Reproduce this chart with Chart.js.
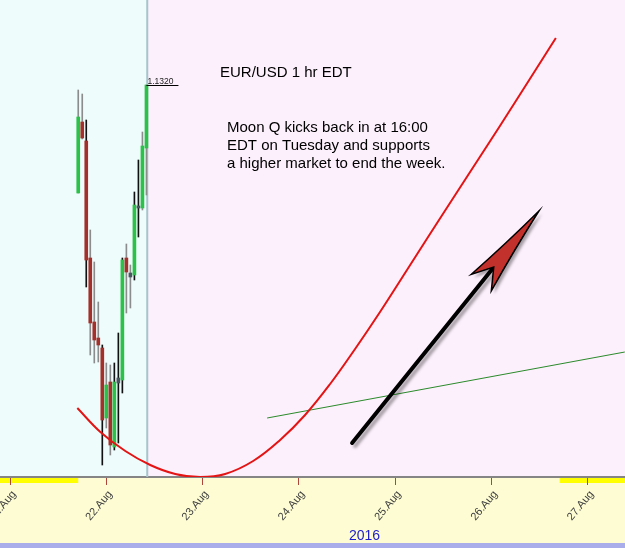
<!DOCTYPE html>
<html>
<head>
<meta charset="utf-8">
<script src="https://cdn.jsdelivr.net/npm/chart.js@4.4.1/dist/chart.umd.min.js"></script>
<style>
  html, body { margin: 0; padding: 0; background: #fcf0fc; }
  #wrap { width: 625px; height: 548px; position: relative; }
</style>
</head>
<body>
<div id="wrap"><canvas id="chart"></canvas></div>
<script>
// x values are days of August 2016, y values are EUR/USD prices
const tickDays = [21, 22, 23, 24, 25, 26, 27];
const tickLabels = ["21.Aug", "22.Aug", "23.Aug", "24.Aug", "25.Aug", "26.Aug", "27.Aug"];

// hourly candles, hours relative to 22 Aug 00:00 EDT
const candleHours = [-7, -6, -5, -4, -3, -2, -1, 0, 1, 2, 3, 4, 5, 6, 7, 8, 9, 10];
const candleOpen  = [1.12984, 1.13126, 1.13088, 1.12854, 1.12726, 1.12694, 1.12674, 1.12534, 1.12606, 1.12476, 1.12604, 1.12610, 1.12854, 1.12816, 1.12820, 1.12954, 1.12954, 1.13074];
const candleHigh  = [1.13190, 1.13182, 1.13130, 1.12910, 1.12846, 1.12766, 1.12680, 1.12644, 1.12640, 1.12644, 1.12704, 1.12854, 1.12882, 1.12840, 1.12986, 1.13050, 1.13106, 1.13200];
const candleLow   = [1.12984, 1.13092, 1.12796, 1.12660, 1.12644, 1.12646, 1.12440, 1.12514, 1.12460, 1.12470, 1.12484, 1.12584, 1.12744, 1.12754, 1.12810, 1.12896, 1.12950, 1.12980];
const candleClose = [1.13136, 1.13094, 1.12850, 1.12724, 1.12690, 1.12680, 1.12530, 1.12600, 1.12480, 1.12606, 1.12614, 1.12850, 1.12826, 1.12824, 1.12960, 1.12958, 1.13078, 1.13200];
const wickDark    = [0, 0, 1, 0, 0, 0, 1, 0, 0, 1, 1, 1, 0, 0, 1, 1, 0, 0];

// Moon Q curve
const moonDays   = [21.699, 21.938, 22.197, 22.456, 22.716, 22.975, 23.234, 23.525, 23.805, 24.064, 24.324, 24.583, 24.842, 25.122, 25.361, 25.589, 25.838, 26.087, 26.378, 26.668];
const moonPrices = [1.12554, 1.12506, 1.12468, 1.12440, 1.12422, 1.12416, 1.12422, 1.12448, 1.12490, 1.12540, 1.12602, 1.12672, 1.12746, 1.12830, 1.12902, 1.12970, 1.13044, 1.13118, 1.13206, 1.13294];

// green trend line
const trendDays   = [23.670, 27.384];
const trendPrices = [1.12534, 1.12666];

// arrow from / to
const arrowDays   = [24.552, 26.492];
const arrowPrices = [1.12484, 1.12948];

const nowDay = 22.425;
const lastPrice = 1.1320;
const weekends = [[20.0, 21.708], [26.708, 28.0]];

const candleX = candleHours.map(h => 22 + h / 24);
const bodyColors = candleOpen.map((o, i) => {
  const c = candleClose[i];
  if (Math.abs(c - o) < 0.0001) return "#4a5560";
  return c > o ? "#2cc24a" : "#a3302a";
});
const wickColors = wickDark.map(d => d ? "#111111" : "#8c8c8c");

const extras = {
  id: "extras",
  beforeDraw(chart) {
    const { ctx, chartArea: a, scales: { x } } = chart;
    const nx = x.getPixelForValue(nowDay);
    ctx.save();
    ctx.fillStyle = "#effcfc";
    ctx.fillRect(a.left, a.top, nx - a.left, a.bottom - a.top);
    ctx.fillStyle = "#fcf0fc";
    ctx.fillRect(nx, a.top, a.right - nx, a.bottom - a.top);
    ctx.fillStyle = "#fdfcd3";
    ctx.fillRect(0, a.bottom, chart.width, chart.height - a.bottom);
    ctx.fillStyle = "#a9adea";
    ctx.fillRect(0, chart.height - 5, chart.width, 5);
    ctx.fillStyle = "#ffff00";
    weekends.forEach(([s, e]) => {
      const x0 = x.getPixelForValue(s), x1 = x.getPixelForValue(e);
      ctx.fillRect(x0, a.bottom, x1 - x0, 6);
    });
    ctx.restore();
  },
  beforeDatasetsDraw(chart) {
    const { ctx, chartArea: a, scales: { x } } = chart;
    const nx = x.getPixelForValue(nowDay);
    ctx.save();
    ctx.strokeStyle = "#a6c4ca";
    ctx.lineWidth = 2;
    ctx.beginPath();
    ctx.moveTo(nx, a.top);
    ctx.lineTo(nx, a.bottom);
    ctx.stroke();
    ctx.restore();
  },
  afterDraw(chart) {
    const { ctx, scales: { x, y } } = chart;
    ctx.save();
    // last price tag
    const lx = x.getPixelForValue(candleX[candleX.length - 1]);
    const ly = Math.round(y.getPixelForValue(lastPrice)) + 0.5;
    ctx.strokeStyle = "#000";
    ctx.lineWidth = 1;
    ctx.beginPath();
    ctx.moveTo(lx, ly);
    ctx.lineTo(lx + 32, ly);
    ctx.stroke();
    ctx.fillStyle = "#222";
    ctx.font = "8.5px 'Liberation Sans', Arial, sans-serif";
    ctx.textBaseline = "alphabetic";
    ctx.fillText(lastPrice.toFixed(4), lx + 1, ly - 2);

    // notes
    ctx.fillStyle = "#000";
    ctx.font = "15px 'Liberation Sans', Arial, sans-serif";
    ctx.fillText("EUR/USD 1 hr EDT", 220, 77);
    ctx.fillText("Moon Q kicks back in at 16:00", 227, 132);
    ctx.fillText("EDT on Tuesday and supports", 227, 150);
    ctx.fillText("a higher market to end the week.", 227, 168);

    // year label
    ctx.fillStyle = "#1c1ccc";
    ctx.font = "14px 'Liberation Sans', Arial, sans-serif";
    ctx.fillText("2016", 349, 540);

    // arrow
    const sx = x.getPixelForValue(arrowDays[0]), sy = y.getPixelForValue(arrowPrices[0]);
    const tx = x.getPixelForValue(arrowDays[1]), ty = y.getPixelForValue(arrowPrices[1]);
    const len = Math.hypot(tx - sx, ty - sy);
    ctx.translate(tx, ty);
    ctx.rotate(Math.atan2(ty - sy, tx - sx));
    ctx.shadowColor = "rgba(0,0,0,0.35)";
    ctx.shadowOffsetX = 3;
    ctx.shadowOffsetY = 3;
    ctx.shadowBlur = 3;
    ctx.strokeStyle = "#000";
    ctx.lineWidth = 4;
    ctx.lineCap = "round";
    ctx.beginPath();
    ctx.moveTo(-len, 0);
    ctx.lineTo(-74, 0);
    ctx.stroke();
    ctx.beginPath();
    ctx.moveTo(0, 0);
    ctx.quadraticCurveTo(-45, -5, -92, -13);
    ctx.lineTo(-72, 0);
    ctx.lineTo(-92, 13);
    ctx.quadraticCurveTo(-45, 5, 0, 0);
    ctx.closePath();
    ctx.fillStyle = "#c3312c";
    ctx.fill();
    ctx.shadowColor = "transparent";
    ctx.lineWidth = 1.5;
    ctx.stroke();
    ctx.restore();
  }
};

new Chart(document.getElementById("chart"), {
  type: "bar",
  data: {
    datasets: [
      {
        type: "line",
        label: "Moon Q",
        data: moonDays.map((d, i) => ({ x: d, y: moonPrices[i] })),
        borderColor: "#e41414",
        borderWidth: 2,
        pointRadius: 0,
        tension: 0.4,
        order: 0,
      },
      {
        type: "line",
        label: "trend",
        data: trendDays.map((d, i) => ({ x: d, y: trendPrices[i] })),
        borderColor: "#2a8a2a",
        borderWidth: 1,
        pointRadius: 0,
        order: 1,
      },
      {
        label: "bodies",
        data: candleX.map((d, i) => ({ x: d, y: [candleOpen[i], candleClose[i]] })),
        backgroundColor: bodyColors,
        barThickness: 3,
        grouped: false,
        order: 2,
      },
      {
        label: "wicks",
        data: candleX.map((d, i) => ({ x: d, y: [candleLow[i], candleHigh[i]] })),
        backgroundColor: wickColors,
        barThickness: 1,
        grouped: false,
        order: 3,
      },
    ],
  },
  options: {
    responsive: true,
    maintainAspectRatio: false,
    animation: false,
    layout: { padding: 0, autoPadding: false },
    plugins: {
      legend: { display: false },
      tooltip: { enabled: false },
    },
    scales: {
      x: {
        type: "linear",
        min: 20.896,
        max: 27.386,
        offset: false,
        afterBuildTicks: (scale) => {
          scale.ticks = tickDays.map(v => ({ value: v }));
        },
        afterFit: (scale) => {
          scale.height = 71;
          scale.paddingLeft = 0;
          scale.paddingRight = 0;
        },
        border: { display: true, color: "#858585", width: 2 },
        grid: {
          offset: false,
          drawOnChartArea: false,
          drawTicks: true,
          tickLength: 8,
          tickColor: "#b0463a",
          tickWidth: 1,
        },
        ticks: {
          minRotation: 50,
          maxRotation: 50,
          padding: 3,
          labelOffset: 4,
          color: "#404040",
          font: { family: "'Liberation Sans', Arial, sans-serif", size: 11 },
          callback: (v) => tickLabels[tickDays.indexOf(v)],
        },
      },
      y: {
        display: false,
        min: 1.12416,
        max: 1.1337,
      },
    },
  },
  plugins: [extras],
});
</script>
</body>
</html>
